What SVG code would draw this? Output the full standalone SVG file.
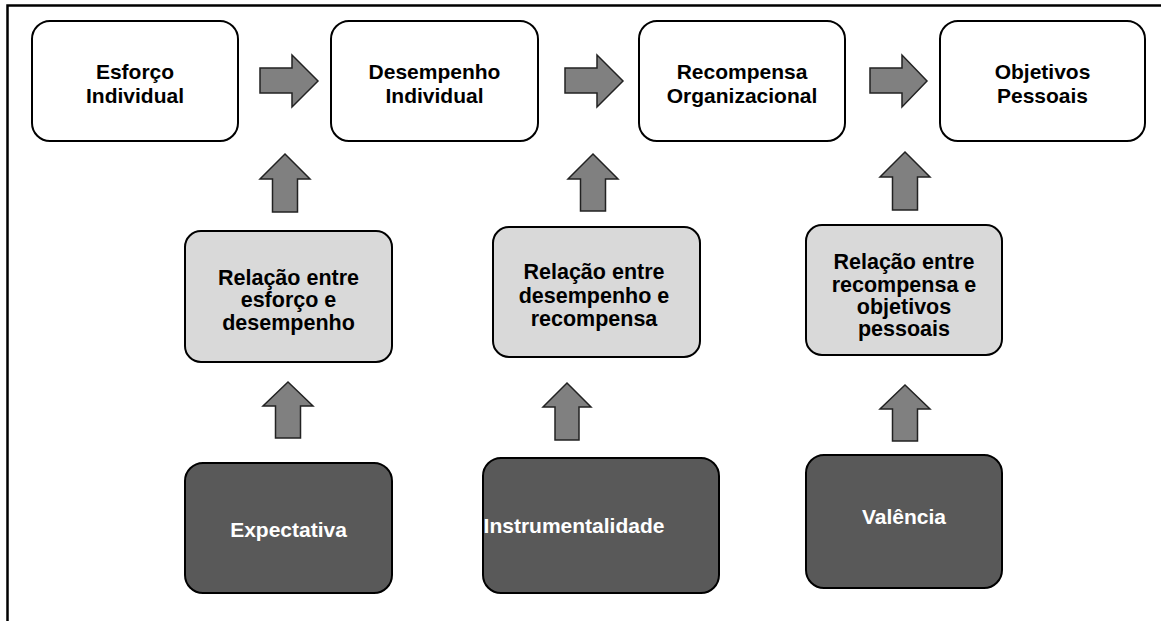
<svg xmlns="http://www.w3.org/2000/svg" width="1161" height="621" viewBox="0 0 1161 621">
<style>
.box{stroke:#000;stroke-width:2}
.w{fill:#fff}
.l{fill:#d9d9d9}
.d{fill:#595959}
.arr{fill:#808080;stroke:#222;stroke-width:1.5;stroke-linejoin:miter}
text{font-family:"Liberation Sans",Arial,sans-serif;font-weight:bold;font-size:21px;text-anchor:middle;fill:#000}
.m{font-size:21.5px}
.wt{fill:#fff}
</style>
<rect width="1161" height="621" fill="#fff"/>
<path d="M7.5 621 V5.5 H1161" fill="none" stroke="#000" stroke-width="2.5"/>
<g id="connectors">
<polygon class="arr" points="260,68 292,68 292,55 318,81 292,107 292,93 260,93"/>
<polygon class="arr" points="565,68 597,68 597,55 623,81 597,107 597,93 565,93"/>
<polygon class="arr" points="870,68 902,68 902,55 927,81 902,107 902,93 870,93"/>
<polygon class="arr" points="285,154 310,179 297.5,179 297.5,212 272.5,212 272.5,179 260,179"/>
<polygon class="arr" points="593,154 618,179 605.5,179 605.5,211 580.5,211 580.5,179 568,179"/>
<polygon class="arr" points="905,152 930,177 917.5,177 917.5,210 892.5,210 892.5,177 880,177"/>
<polygon class="arr" points="288,382 313,406 300.5,406 300.5,438 275.5,438 275.5,406 263,406"/>
<polygon class="arr" points="567,383 591,407 579,407 579,440 555,440 555,407 543,407"/>
<polygon class="arr" points="905,385 930,409 917.5,409 917.5,441 892.5,441 892.5,409 880,409"/>
</g>
<g id="esforco">
<rect class="box w" x="32" y="21" width="206" height="120" rx="18"/>
<text x="135" y="79">Esforço</text><text x="135" y="103">Individual</text>
</g>
<g id="desempenho">
<rect class="box w" x="331" y="21" width="207" height="120" rx="18"/>
<text x="434.5" y="79">Desempenho</text><text x="434.5" y="103">Individual</text>
</g>
<g id="recompensa">
<rect class="box w" x="639" y="21" width="206" height="120" rx="18"/>
<text x="742" y="79">Recompensa</text><text x="742" y="103">Organizacional</text>
</g>
<g id="objetivos">
<rect class="box w" x="940" y="21" width="205" height="120" rx="18"/>
<text x="1042.5" y="79">Objetivos</text><text x="1042.5" y="103">Pessoais</text>
</g>
<g id="rel1">
<rect class="box l" x="185" y="231" width="207" height="131" rx="16"/>
<text class="m" x="288.5" y="285">Relação entre</text><text class="m" x="288.5" y="307">esforço e</text><text class="m" x="288.5" y="330">desempenho</text>
</g>
<g id="rel2">
<rect class="box l" x="493" y="227" width="207" height="130" rx="16"/>
<text class="m" x="594" y="279">Relação entre</text><text class="m" x="594" y="303">desempenho e</text><text class="m" x="594" y="326">recompensa</text>
</g>
<g id="rel3">
<rect class="box l" x="806" y="225" width="196" height="130" rx="16"/>
<text class="m" x="904" y="269">Relação entre</text><text class="m" x="904" y="292">recompensa e</text><text class="m" x="904" y="314">objetivos</text><text class="m" x="904" y="336">pessoais</text>
</g>
<g id="expectativa">
<rect class="box d" x="185" y="463" width="207" height="130" rx="18"/>
<text class="wt" x="288.5" y="537">Expectativa</text>
</g>
<g id="instrumentalidade">
<rect class="box d" x="483" y="458" width="236" height="135" rx="18"/>
<text class="wt" x="574" y="533">Instrumentalidade</text>
</g>
<g id="valencia">
<rect class="box d" x="806" y="455" width="196" height="133" rx="18"/>
<text class="wt" x="904" y="524">Valência</text>
</g>
</svg>
